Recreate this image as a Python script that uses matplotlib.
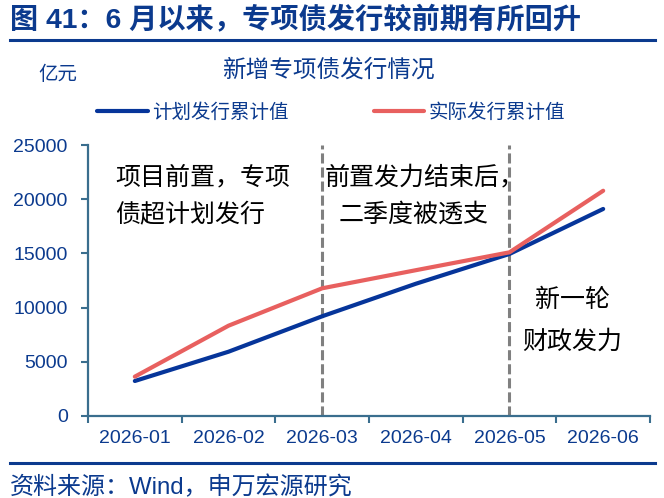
import matplotlib
matplotlib.use("Agg")
import matplotlib.pyplot as plt
from matplotlib.lines import Line2D

months = ["2026-01", "2026-02", "2026-03", "2026-04", "2026-05", "2026-06"]
plan_cum = [3230, 5930, 9200, 12200, 14950, 19100]
actual_cum = [3630, 8330, 11780, 13450, 15100, 20780]
y_ticks = [0, 5000, 10000, 15000, 20000, 25000]
divider_months = ["2026-03", "2026-05"]

W, H = 664, 498
DARK = "#0B3A8E"
BLUE = "#06359A"
RED = "#E8605F"
AXIS = "#3A6E8E"
CJK = ["Noto Sans CJK SC", "DejaVu Sans"]
MIX = ["Liberation Sans", "Noto Sans CJK SC", "DejaVu Sans"]

fig = plt.figure(figsize=(W / 100, H / 100), dpi=100)

def fx(x):
    return x / W

def fy(y):
    return 1 - y / H

ax = fig.add_axes([fx(88), fy(416), fx(650) - fx(88), fy(145) - fy(416)])
xs = list(range(len(months)))
l1, = ax.plot(xs, plan_cum, color=BLUE, lw=3.0, solid_capstyle="round", solid_joinstyle="round", zorder=3)
l2, = ax.plot(xs, actual_cum, color=RED, lw=3.0, solid_capstyle="round", solid_joinstyle="round", zorder=4)

for m in divider_months:
    ax.axvline(months.index(m), color="#808080", lw=2.2, dashes=(3.3, 1.3), zorder=2)

ax.set_xlim(-0.5, len(months) - 0.5)
ax.set_ylim(0, 25000)
ax.set_yticks(y_ticks)
ax.set_yticklabels([str(v) for v in y_ticks])
ax.set_xticks(xs)
ax.set_xticklabels(months)
ax.set_xticks([i - 0.5 for i in range(len(months) + 1)], minor=True)
ax.tick_params(axis="x", which="major", length=0, pad=10, labelsize=14, labelcolor=DARK)
ax.tick_params(axis="x", which="minor", length=5, width=1.5, color=AXIS, direction="out")
ax.tick_params(axis="y", which="major", length=5, width=1.5, color=AXIS, direction="out", pad=9.5,
               labelsize=14, labelcolor=DARK)
for lab in ax.get_xticklabels() + ax.get_yticklabels():
    lab.set_family(MIX)
for s in ["top", "right"]:
    ax.spines[s].set_visible(False)
for s in ["left", "bottom"]:
    ax.spines[s].set_color(AXIS)
    ax.spines[s].set_linewidth(1.6)

# legend
leg = fig.legend([l1, l2], ["计划发行累计值", "实际发行累计值"], loc="center left",
                 bbox_to_anchor=(fx(97), fy(112)), bbox_transform=fig.transFigure,
                 ncol=2, frameon=False, borderpad=0, borderaxespad=0,
                 handlelength=2.6, handletextpad=0.25, columnspacing=4.35,
                 prop={"family": CJK, "size": 14})
for t in leg.get_texts():
    t.set_color(DARK)

# titles and labels
fig.text(fx(10), fy(20), "图 41：6 月以来，专项债发行较前期有所回升", family=MIX, weight="bold",
         size=20.3, color=DARK, ha="left", va="center")
fig.add_artist(Line2D([fx(10), fx(655)], [fy(40), fy(40)], color=DARK, lw=2.2))
fig.text(fx(328), fy(70), "新增专项债发行情况", family=CJK, size=17, color=DARK, ha="center", va="center")
fig.text(fx(38), fy(75), "亿元", family=CJK, size=14, color=DARK, ha="left", va="center")

# annotations
ann_kw = dict(family=CJK, size=18, color="black", va="center")
fig.text(fx(115), fy(177), "项目前置，专项", ha="left", **ann_kw)
fig.text(fx(115), fy(215), "债超计划发行", ha="left", **ann_kw)
fig.text(fx(325), fy(177), "前置发力结束后，", ha="left", **ann_kw)
fig.text(fx(414), fy(215), "二季度被透支", ha="center", **ann_kw)
fig.text(fx(572), fy(300), "新一轮", ha="center", **ann_kw)
fig.text(fx(572), fy(342), "财政发力", ha="center", **ann_kw)

# footer
fig.add_artist(Line2D([fx(10), fx(655)], [fy(463), fy(463)], color=DARK, lw=2.2))
fig.text(fx(10), fy(487), "资料来源：Wind，申万宏源研究", family=MIX, size=17.3, color=DARK,
         ha="left", va="center")

fig.savefig("out.png", dpi=100)
